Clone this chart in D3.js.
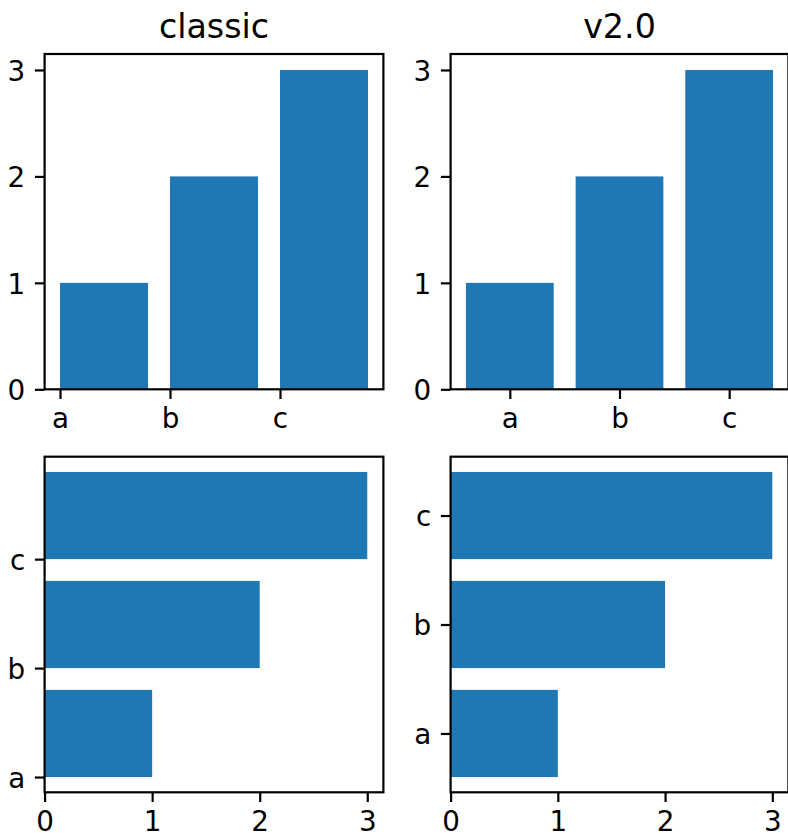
<!DOCTYPE html>
<html>
<head>
<meta charset="utf-8">
<script src="https://cdn.jsdelivr.net/npm/d3@7"></script>
<style>
  html, body { margin: 0; padding: 0; background: #fff; }
  svg { display: block; }
  text { font-family: "DejaVu Sans", sans-serif; fill: #000; }
</style>
</head>
<body>
<script>
// ---- data ----
const categories = ["a", "b", "c"];
const values = [1, 2, 3];
const valueTicks = [0, 1, 2, 3];
const styleNames = ["classic", "v2.0"];

// ---- layout ----
const W = 788, H = 834;
const colX = [[44.6, 383.4], [450.6, 788.4]];
const rowY = [[54, 389.3], [456.7, 792.3]];
const barColor = "#1f77b4";
const lw = 2.2;          // 0.8pt at 200dpi
const tickLen = 9.7;     // 3.5pt
const tickPad = 9.7;
const tickFont = 27.8;   // 10pt
const titleFont = 33.3;  // 12pt
const barWidth = 0.8;
const margin = 0.05;

const svg = d3.select("body").append("svg")
  .attr("width", W).attr("height", H)
  .attr("viewBox", `0 0 ${W} ${H}`);

function padded(lo, hi, stickyZero) {
  const span = hi - lo;
  return [stickyZero && lo === 0 ? 0 : lo - margin * span, hi + margin * span];
}

function styleAxis(g, isBottom) {
  g.select(".domain").remove();
  g.selectAll(".tick line").attr("stroke", "#000").attr("stroke-width", lw);
  g.selectAll(".tick text")
    .attr("font-size", tickFont)
    .attr("font-family", "DejaVu Sans")
    .attr("fill", "#000")
    .attr("dy", isBottom ? "0.7em" : "0.37em");
}

styleNames.forEach((name, col) => {
  const classic = name === "classic";
  const [x0, x1] = colX[col];
  // category positions: classic aligns bar edge at the tick, v2.0 centers
  const catLo = classic ? 0 : -barWidth / 2;
  const catHi = classic ? (categories.length - 1) + barWidth : (categories.length - 1) + barWidth / 2;
  const catDomain = padded(catLo, catHi, false);
  const valDomain = padded(0, d3.max(values), true);
  const offset = classic ? 0 : -barWidth / 2;

  // ---- vertical bars (top row) ----
  {
    const [y0, y1] = rowY[0];
    const x = d3.scaleLinear().domain(catDomain).range([x0, x1]);
    const y = d3.scaleLinear().domain(valDomain).range([y1, y0]);
    const g = svg.append("g");
    g.selectAll("rect.bar").data(values).join("rect")
      .attr("class", "bar")
      .attr("x", (d, i) => x(i + offset))
      .attr("width", (d, i) => x(i + offset + barWidth) - x(i + offset))
      .attr("y", d => y(d))
      .attr("height", d => y(0) - y(d))
      .attr("fill", barColor);

    const ax = g.append("g").attr("transform", `translate(0,${y1})`)
      .call(d3.axisBottom(x).tickValues(d3.range(categories.length))
        .tickFormat(i => categories[i]).tickSize(tickLen).tickPadding(tickPad));
    styleAxis(ax, true);
    const ay = g.append("g").attr("transform", `translate(${x0},0)`)
      .call(d3.axisLeft(y).tickValues(valueTicks).tickFormat(d3.format("d"))
        .tickSize(tickLen).tickPadding(tickPad));
    styleAxis(ay, false);

    g.append("rect").attr("x", x0).attr("y", y0)
      .attr("width", x1 - x0).attr("height", y1 - y0)
      .attr("fill", "none").attr("stroke", "#000").attr("stroke-width", lw);

    g.append("text").attr("x", (x0 + x1) / 2).attr("y", y0 - 16.4)
      .attr("text-anchor", "middle").attr("font-size", titleFont)
      .text(name);
  }

  // ---- horizontal bars (bottom row) ----
  {
    const [y0, y1] = rowY[1];
    const x = d3.scaleLinear().domain(valDomain).range([x0, x1]);
    const y = d3.scaleLinear().domain(catDomain).range([y1, y0]);
    const g = svg.append("g");
    g.selectAll("rect.bar").data(values).join("rect")
      .attr("class", "bar")
      .attr("y", (d, i) => y(i + offset + barWidth))
      .attr("height", (d, i) => y(i + offset) - y(i + offset + barWidth))
      .attr("x", x(0))
      .attr("width", d => x(d) - x(0))
      .attr("fill", barColor);

    const ax = g.append("g").attr("transform", `translate(0,${y1})`)
      .call(d3.axisBottom(x).tickValues(valueTicks).tickFormat(d3.format("d"))
        .tickSize(tickLen).tickPadding(tickPad));
    styleAxis(ax, true);
    const ay = g.append("g").attr("transform", `translate(${x0},0)`)
      .call(d3.axisLeft(y).tickValues(d3.range(categories.length))
        .tickFormat(i => categories[i]).tickSize(tickLen).tickPadding(tickPad));
    styleAxis(ay, false);

    g.append("rect").attr("x", x0).attr("y", y0)
      .attr("width", x1 - x0).attr("height", y1 - y0)
      .attr("fill", "none").attr("stroke", "#000").attr("stroke-width", lw);
  }
});
</script>
</body>
</html>
